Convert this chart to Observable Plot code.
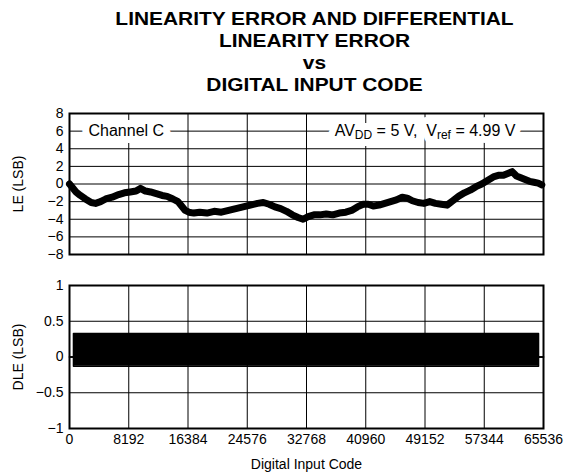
<!DOCTYPE html>
<html>
<head>
<meta charset="utf-8">
<script src="https://cdn.jsdelivr.net/npm/d3@7"></script>
<script src="https://cdn.jsdelivr.net/npm/@observablehq/plot@0.6"></script>
<style>
  html, body { margin: 0; padding: 0; background: #fff; }
  body { width: 567px; height: 475px; overflow: hidden; font-family: "Liberation Sans", Arial, sans-serif; }
  #title { height: 100px; box-sizing: border-box; padding-top: 8px; text-align: center; font-weight: bold; font-size: 19px; line-height: 22px; color: #000; }
  #title div { width: 567px; position: relative; left: 31px; transform: scaleX(1.1); transform-origin: 50% 50%; white-space: nowrap; }
  svg { display: block; }
</style>
</head>
<body>
<div id="title">
  <div>LINEARITY ERROR AND DIFFERENTIAL</div>
  <div>LINEARITY ERROR</div>
  <div>vs</div>
  <div>DIGITAL INPUT CODE</div>
</div>
<div id="le"></div>
<div id="dle"></div>
<script>
// ---- data ----
const xTicks = [0, 8192, 16384, 24576, 32768, 40960, 49152, 57344, 65536];
const leTicks = [-8, -6, -4, -2, 0, 2, 4, 6, 8];
const dleTicks = [-1, -0.5, 0, 0.5, 1];

const leCode = [0, 400, 900, 1500, 2200, 3000, 3600, 4300, 5000, 5900, 6800, 7600, 8400, 9200, 9800, 10500, 11200, 12000, 12800, 13500, 14300, 15000, 15500, 16000, 16500, 17200, 18000, 19000, 20000, 21000, 22000, 23000, 24000, 25000, 26000, 26800, 27600, 28400, 29200, 30000, 30800, 31600, 32300, 33000, 33800, 34600, 35500, 36400, 37300, 38200, 39000, 39800, 40600, 41300, 42000, 42800, 43600, 44400, 45200, 46000, 46700, 47400, 48200, 49000, 49800, 50600, 51400, 52200, 53000, 53800, 54600, 55400, 56200, 57000, 57800, 58600, 59400, 60000, 60600, 61200, 61800, 62400, 63000, 63600, 64200, 64800, 65300];
const leValue = [0.0, -0.4, -0.9, -1.3, -1.7, -2.1, -2.2, -2.0, -1.7, -1.5, -1.2, -1.0, -0.9, -0.8, -0.5, -0.8, -0.9, -1.1, -1.3, -1.4, -1.7, -2.0, -2.5, -3.0, -3.2, -3.3, -3.2, -3.3, -3.1, -3.2, -3.0, -2.8, -2.6, -2.4, -2.2, -2.1, -2.3, -2.6, -2.8, -3.1, -3.5, -3.8, -4.0, -3.7, -3.5, -3.5, -3.4, -3.5, -3.3, -3.2, -3.0, -2.6, -2.3, -2.3, -2.5, -2.4, -2.2, -2.0, -1.8, -1.5, -1.6, -1.9, -2.1, -2.2, -2.0, -2.2, -2.3, -2.4, -1.9, -1.4, -1.0, -0.7, -0.3, 0.0, 0.4, 0.8, 1.0, 1.0, 1.2, 1.4, 0.9, 0.7, 0.5, 0.3, 0.2, 0.1, -0.1];

// DLE envelope of the dense oscillation
const dleCode = [0, 550, 550, 64850, 64850, 65536];
const dleHigh = [0, 0, 0.33, 0.33, 0, 0];
const dleLow  = [0, 0, -0.13, -0.13, 0, 0];

// annotations (text parts: [string, isSubscript])
const noteParts = [
  [["Channel C", 0]],
  [["AV", 0], ["DD", 1], [" = 5 V,  V", 0], ["ref", 1], [" = 4.99 V", 0]]
];
const noteCode = [2630, 61660];
const noteValue = [6, 6];
const noteAnchor = ["start", "end"];

const xLabel = "Digital Input Code";
const leLabel = "LE (LSB)";
const dleLabel = "DLE (LSB)";

// ---- build tables ----
const le = leCode.map((c, i) => ({code: c, v: leValue[i]}));
const dle = dleCode.map((c, i) => ({code: c, hi: dleHigh[i], lo: dleLow[i]}));
const notes = noteParts.map((p, i) => ({id: i, t: p.map(d => d[0]).join(""), code: noteCode[i], v: noteValue[i], a: noteAnchor[i]}));

const font = '"Liberation Sans", Arial, sans-serif';
const common = {
  width: 567, marginLeft: 69, marginRight: 24,
  style: {fontFamily: font, fontSize: "14px", color: "#000", background: "#fff"}
};

function noteMarks() {
  const out = [];
  for (const a of ["start", "end"]) {
    const data = notes.filter(d => d.a === a);
    out.push(Plot.text(data, {x: "code", y: "v", text: "t", textAnchor: a, fontSize: 16, fill: "#fff", stroke: "#fff", strokeWidth: 14, className: "note-bg"}));
    out.push(Plot.text(data, {x: "code", y: "v", text: "t", textAnchor: a, fontSize: 16, fill: "#000", className: "note-fg"}));
  }
  return out;
}

const lePlot = Plot.plot({
  ...common,
  height: 162, marginTop: 13, marginBottom: 8,
  x: {domain: [0, 65536], axis: null},
  y: {domain: [-8, 8]},
  marks: [
    Plot.gridX(xTicks, {stroke: "#000", strokeOpacity: 1, strokeWidth: 1}),
    Plot.gridY(leTicks, {stroke: "#000", strokeOpacity: 1, strokeWidth: 1}),
    Plot.axisY(leTicks, {tickSize: 0, tickPadding: 6, fontSize: 14, label: leLabel, labelAnchor: "center", labelArrow: "none", labelOffset: 56}),
    Plot.line(le, {x: "code", y: "v", stroke: "#000", strokeWidth: 7, strokeLinejoin: "round"}),
    ...noteMarks(),
    Plot.frame({stroke: "#000", strokeWidth: 2})
  ]
});
document.getElementById("le").appendChild(lePlot);

// rebuild annotation texts with subscripts
d3.select(lePlot).selectAll("g.note-bg text, g.note-fg text").each(function() {
  const t = d3.select(this);
  const full = t.text();
  const idx = notes.findIndex(n => n.t === full);
  if (idx < 0) return;
  t.text(null).attr("xml:space", "preserve");
  noteParts[idx].forEach(([s, sub]) => {
    const ts = t.append("tspan").text(s);
    if (sub) ts.attr("baseline-shift", "-25%").attr("font-size", "12px");
  });
});

const dlePlot = Plot.plot({
  ...common,
  height: 213, marginTop: 23, marginBottom: 47,
  x: {domain: [0, 65536]},
  y: {domain: [-1, 1]},
  marks: [
    Plot.gridX(xTicks, {stroke: "#000", strokeOpacity: 1, strokeWidth: 1}),
    Plot.gridY(dleTicks, {stroke: "#000", strokeOpacity: 1, strokeWidth: 1}),
    Plot.axisY(dleTicks, {tickSize: 0, tickPadding: 6, fontSize: 14, label: dleLabel, labelAnchor: "center", labelArrow: "none", labelOffset: 56, tickFormat: d => d3.format("")(d).replace("-", "\u2212")}),
    Plot.axisX(xTicks, {tickSize: 0, tickPadding: 6, fontSize: 14, label: xLabel, labelAnchor: "center", labelArrow: "none", labelOffset: 40, tickFormat: d => String(d)}),
    Plot.areaY(dle, {x: "code", y1: "lo", y2: "hi", fill: "#000"}),
    Plot.line(dle, {x: "code", y: "hi", stroke: "#000", strokeWidth: 1.5}),
    Plot.line(dle, {x: "code", y: "lo", stroke: "#000", strokeWidth: 1.5}),
    Plot.frame({stroke: "#000", strokeWidth: 2})
  ]
});
document.getElementById("dle").appendChild(dlePlot);
</script>
</body>
</html>
